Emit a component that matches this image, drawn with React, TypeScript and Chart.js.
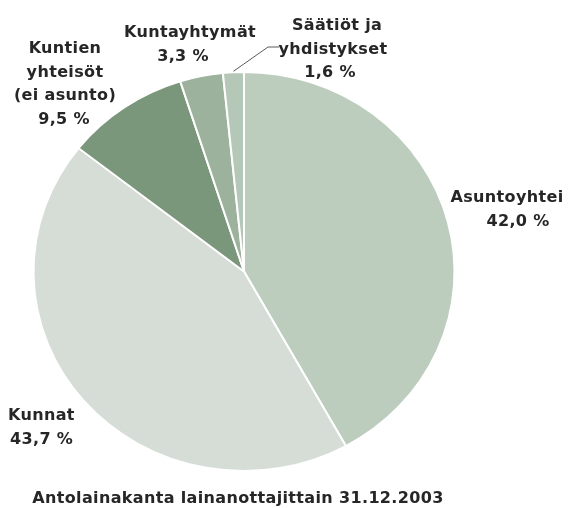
import React, { useEffect, useRef } from "react";
import { Chart, registerables } from "chart.js";

Chart.register(...registerables);

// ---- data ----
const categories = [
  "Asuntoyhteisöt",
  "Kunnat",
  "Kuntien yhteisöt (ei asunto)",
  "Kuntayhtymät",
  "Säätiöt ja yhdistykset",
];
const shares = [42.0, 43.7, 9.5, 3.3, 1.6];
const labelNames = [
  ["Asuntoyhtei"],
  ["Kunnat"],
  ["Kuntien", "yhteisöt", "(ei asunto)"],
  ["Kuntayhtymät"],
  ["Säätiöt ja", "yhdistykset"],
];
const sliceColors = ["#bccdbe", "#d5ddd6", "#7a967b", "#9cb29d", "#b5c7b6"];
const chartTitle = "Antolainakanta lainanottajittain 31.12.2003";

// ---- layout / style ----
const W = 568;
const H = 508;
const SQUASH_Y = 0.9475;
const FONT = "bold 16px 'DejaVu Sans', Verdana, sans-serif";
const TEXT_COLOR = "#262626";
const LINE_H = 23.5;
const labelLayout = [
  { xs: [507, 518], y: 202, align: "center" },
  { xs: [8, 10], y: 420, align: "left" },
  { xs: [65, 65, 65, 64], y: 53, align: "center" },
  { xs: [190, 183], y: 37, align: "center" },
  { xs: [337, 333, 330], y: 30, align: "center" },
];
const leaderElbow = { x: 268, y: 47, endX: 279 };

const fmt = (v: number) => v.toFixed(1).replace(".", ",") + " %";

const squashPlugin = {
  id: "squash",
  beforeDatasetsDraw(chart: any) {
    const arc = chart.getDatasetMeta(0).data[0] as any;
    if (!arc) return;
    const ctx = chart.ctx;
    ctx.save();
    ctx.translate(arc.x, arc.y);
    ctx.scale(1, SQUASH_Y);
    ctx.translate(-arc.x, -arc.y);
  },
  afterDatasetsDraw(chart: any) {
    chart.ctx.restore();
  },
};

const labelPlugin = {
  id: "pieLabels",
  afterDraw(chart: any) {
    const ctx = chart.ctx as CanvasRenderingContext2D;
    const meta = chart.getDatasetMeta(0);
    ctx.save();
    ctx.font = FONT;
    (ctx as any).letterSpacing = "0.35px";
    ctx.fillStyle = TEXT_COLOR;
    ctx.textBaseline = "alphabetic";
    labelNames.forEach((names, i) => {
      const lines = [...names, fmt(shares[i])];
      const lay = labelLayout[i];
      ctx.textAlign = lay.align as CanvasTextAlign;
      lines.forEach((t, j) => {
        ctx.fillText(t, lay.xs[j], lay.y + j * LINE_H);
      });
    });

    // leader line for the smallest slice
    const arc = meta.data[4] as any;
    if (arc) {
      const mid = (arc.startAngle + arc.endAngle) / 2;
      const px = arc.x + Math.cos(mid) * arc.outerRadius;
      const py = arc.y + Math.sin(mid) * arc.outerRadius * SQUASH_Y;
      ctx.strokeStyle = "#5a5a5a";
      ctx.lineWidth = 1;
      ctx.beginPath();
      ctx.moveTo(px, py - 1);
      ctx.lineTo(leaderElbow.x, leaderElbow.y);
      ctx.lineTo(leaderElbow.endX, leaderElbow.y);
      ctx.stroke();
    }

    // title
    ctx.textAlign = "center";
    ctx.fillText(chartTitle, 238, 503);
    ctx.restore();
  },
};

export default function App() {
  const ref = useRef<HTMLCanvasElement | null>(null);
  useEffect(() => {
    if (!ref.current) return;
    const chart = new Chart(ref.current, {
      type: "pie",
      data: {
        labels: categories,
        datasets: [
          {
            data: shares,
            backgroundColor: sliceColors,
            borderColor: "#ffffff",
            borderWidth: 2,
            hoverOffset: 0,
            radius: 210.5,
          } as any,
        ],
      },
      options: {
        responsive: false,
        animation: false,
        layout: { padding: { left: 0, right: 80, top: 35, bottom: 0 } },
        plugins: {
          legend: { display: false },
          tooltip: { enabled: false },
          title: { display: false },
        },
      },
      plugins: [squashPlugin, labelPlugin],
    });
    return () => chart.destroy();
  }, []);
  return (
    <div style={{ position: "fixed", left: 0, top: 0, width: W, height: H, background: "#fff" }}>
      <canvas ref={ref} width={W} height={H} style={{ width: W, height: H }} />
    </div>
  );
}
